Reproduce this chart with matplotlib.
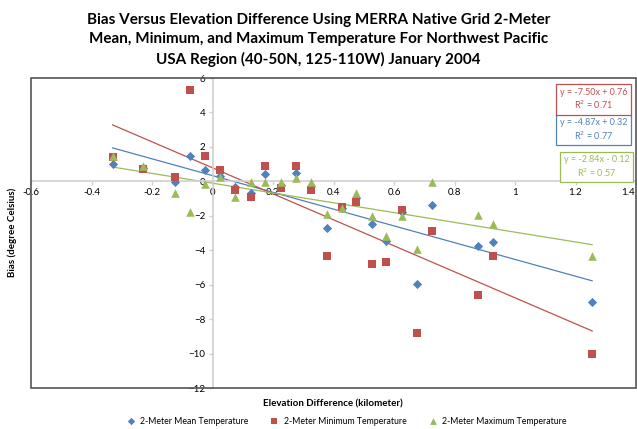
import numpy as np
import matplotlib.pyplot as plt
from matplotlib.patches import Rectangle

plt.rcParams['font.family'] = ['Lato', 'DejaVu Sans']

# elevation difference (km) and bias (deg C)
elev = [-0.33, -0.23, -0.125, -0.076, -0.026, 0.025, 0.076, 0.126, 0.172, 0.225, 0.275, 0.325,
        0.377, 0.427, 0.476, 0.526, 0.575, 0.625, 0.676, 0.725, 0.877, 0.927, 1.255]
bias_mean = [1.0, 0.8, -0.05, 1.5, 0.65, 0.3, -0.3, -0.65, 0.45, -0.2, 0.5, -0.25,
             -2.7, -1.55, -0.95, -2.5, -3.45, -1.8, -5.95, -1.4, -3.75, -3.5, -7.0]
bias_min = [1.4, 0.7, 0.25, 5.3, 1.45, 0.65, -0.5, -0.9, 0.9, -0.4, 0.9, -0.5,
            -4.35, -1.5, -1.2, -4.8, -4.7, -1.65, -8.8, -2.9, -6.6, -4.35, -10.0]
bias_max = [1.45, 0.9, -0.65, -1.8, -0.15, 0.25, -0.9, -0.05, -0.05, -0.05, 0.2, -0.05,
            -1.9, -1.55, -0.65, -2.0, -3.2, -2.0, -3.95, -0.05, -1.95, -2.45, -4.35]

labels = ['2-Meter Mean Temperature', '2-Meter Minimum Temperature', '2-Meter Maximum Temperature']
equations = ['y = -4.87x + 0.32\nR$^2$ = 0.77', 'y = -7.50x + 0.76\nR$^2$ = 0.71',
             'y = -2.84x - 0.12\nR$^2$ = 0.57']
colors = ['#4f81bd', '#c0504d', '#9bbb59']
markers = ['D', 's', '^']
sizes = [22, 34, 38]
eq_pos = [(0.93, 0.833), (0.93, 0.93), (0.935, 0.713)]
xticks = [-0.6, -0.4, -0.2, 0, 0.2, 0.4, 0.6, 0.8, 1, 1.2, 1.4]
xtick_labels = ['-0.6', '-0.4', '-0.2', '0', '0.2', '0.4', '0.6', '0.8', '1', '1.2', '1.4']

fig = plt.figure(figsize=(6.37, 4.29), dpi=100)
ax = fig.add_axes([31 / 637, 1 - 388 / 429, 605 / 637, 310 / 429])

x = np.array(elev)
for ys, lab, c, m, s in zip([bias_mean, bias_min, bias_max], labels, colors, markers, sizes):
    ax.scatter(x, ys, marker=m, s=s, color=c, label=lab, zorder=3, linewidths=0)

# linear trendlines
for ys, c in zip([bias_mean, bias_min, bias_max], colors):
    k, b = np.polyfit(x, ys, 1)
    xx = np.array([x.min(), x.max()])
    ax.plot(xx, k * xx + b, color=c, lw=0.9, zorder=2)

for txt, c, (px, py) in zip(equations, colors, eq_pos):
    ax.text(px, py, txt, transform=ax.transAxes, ha='center', va='center', color=c,
            fontsize=6.5, linespacing=1.2,
            bbox=dict(boxstyle='square,pad=0.4', fc='white', ec=c, lw=0.9), zorder=5)

ax.set_xlim(-0.6, 1.4)
ax.set_ylim(-12, 6)
ax.set_xticks(xticks)
# last label sits on the right edge, so it is drawn separately, right-aligned
ax.set_xticklabels(xtick_labels[:-1] + [''])
ax.annotate(xtick_labels[-1], (xticks[-1], 0), xytext=(-1, -5), textcoords='offset points',
            ha='right', va='top', fontsize=7)
ax.set_yticks(np.arange(-12, 7, 2))

ax.spines['left'].set_position(('data', 0))
ax.spines['bottom'].set_position(('data', 0))
ax.spines['top'].set_visible(False)
ax.spines['right'].set_visible(False)
for sp in ['left', 'bottom']:
    ax.spines[sp].set_color('#d0d0d0')
    ax.spines[sp].set_linewidth(1.2)
ax.tick_params(axis='both', colors='#d0d0d0', labelcolor='black', labelsize=7,
               length=3, width=1, direction='out', pad=2)
ax.add_patch(Rectangle((0, 0), 1, 1, transform=ax.transAxes, fill=False,
                       ec='#555555', lw=1.2, clip_on=False, zorder=6))

fig.text(0.5, 1 - 40 / 429, 'Bias Versus Elevation Difference Using MERRA Native Grid 2-Meter\n'
         'Mean, Minimum, and Maximum Temperature For Northwest Pacific\n'
         'USA Region (40-50N, 125-110W) January 2004',
         ha='center', va='center', fontsize=11, fontweight='bold', linespacing=1.45)
fig.text(12 / 637, 1 - 232 / 429, 'Bias (degree Celsius)', rotation=90, ha='center',
         va='center', fontsize=7, fontweight='bold')
fig.text(333 / 637, 1 - 404 / 429, 'Elevation Difference (kilometer)', ha='center',
         va='center', fontsize=7, fontweight='bold')

fig.legend(loc='center', bbox_to_anchor=(344 / 637, 1 - 421 / 429), ncol=3, frameon=False,
           fontsize=6.3, handletextpad=0.05, columnspacing=2.0, markerscale=0.8)

fig.savefig('out.png', dpi=100)
